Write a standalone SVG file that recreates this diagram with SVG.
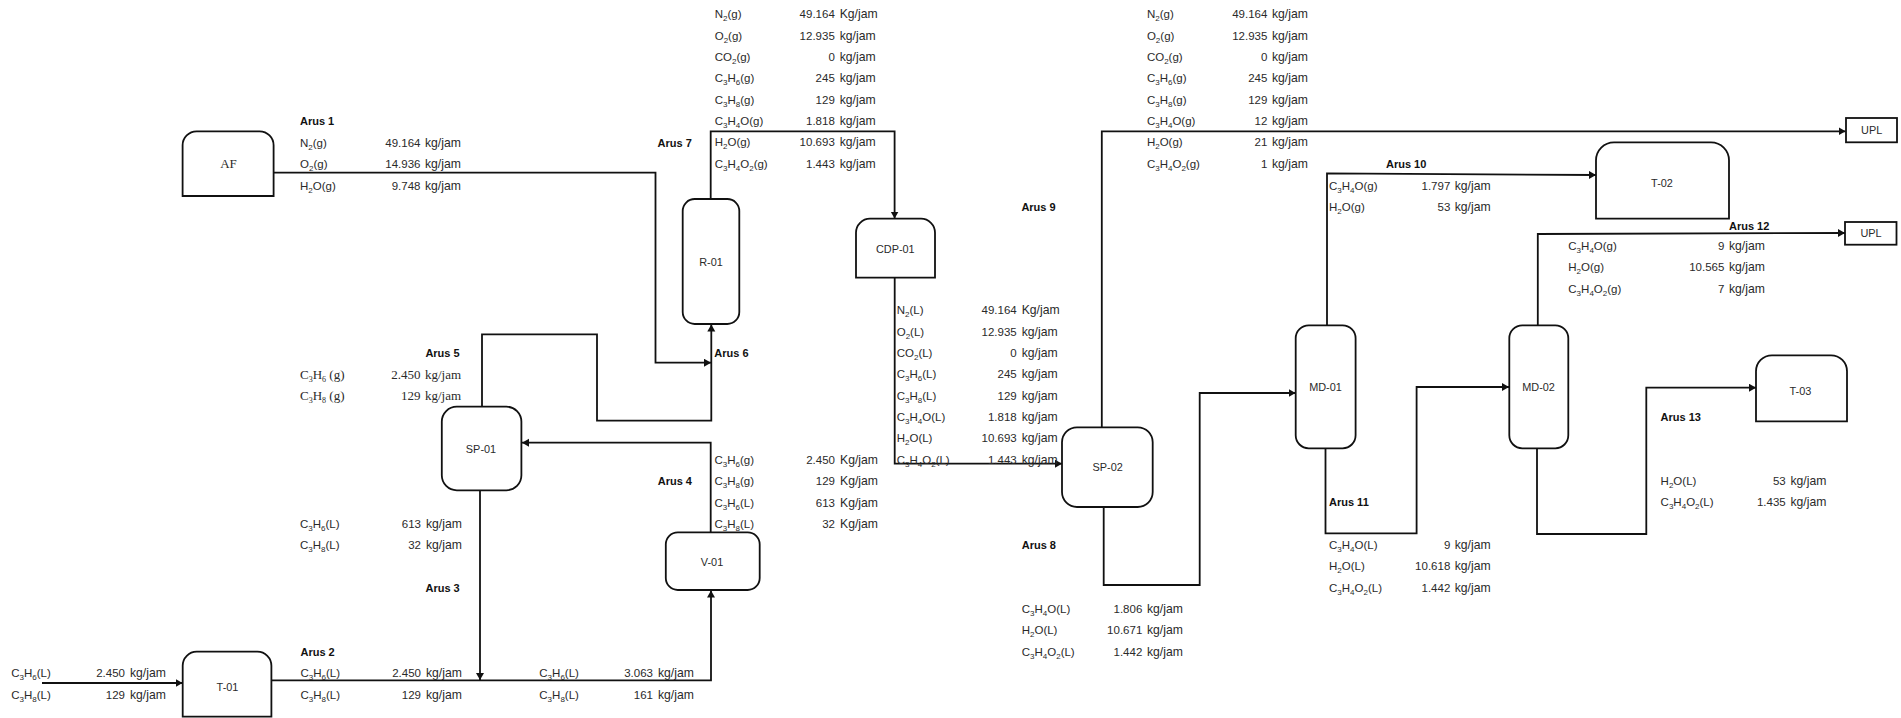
<svg xmlns="http://www.w3.org/2000/svg" width="1901" height="718" viewBox="0 0 1901 718">
<style>
text{font-family:"Liberation Sans",Arial,sans-serif;font-size:11.5px;fill:#2a2a2a}
.b{font-weight:bold;font-size:11px;fill:#111}
.r{text-anchor:end}
.c{text-anchor:middle;font-size:10.9px}
.r+text{font-size:12.2px}
.s{font-size:8px;baseline-shift:-2.5px}
text.t,text.t.c,.r.t+text{font-family:"Liberation Serif",serif;font-size:13px}
.n{fill:#fff;stroke:#111;stroke-width:1.8}
.w{fill:none;stroke:#111;stroke-width:1.8;stroke-linejoin:miter}
</style>
<defs>
<marker id="a" markerUnits="userSpaceOnUse" markerWidth="9" markerHeight="9" refX="7" refY="4" orient="auto"><path d="M0 0L7 4L0 8Z" fill="#111"/></marker>
</defs>
<g id="connectors">
<path class="w" d="M274 172.7H655.5V362.7H711" marker-end="url(#a)"/>
<path class="w" d="M482 406.7V334.3H597V420.7H711.3V324.5" marker-end="url(#a)"/>
<path class="w" d="M710.7 199V131.3H894.6V218.5" marker-end="url(#a)"/>
<path class="w" style="stroke-width:2.2" d="M42 683H182.5" marker-end="url(#a)"/>
<path class="w" d="M271.5 680.3H711V590.5" marker-end="url(#a)"/>
<path class="w" d="M480 490.3V680" marker-end="url(#a)"/>
<path class="w" d="M710.7 532.3V442.7H522" marker-end="url(#a)"/>
<path class="w" d="M894.7 277.7V463.7H1062" marker-end="url(#a)"/>
<path class="w" d="M1101.8 427.3V131.3H1845.5" marker-end="url(#a)"/>
<path class="w" d="M1103.7 507V585H1199.7V393H1295.5" marker-end="url(#a)"/>
<path class="w" d="M1327 325.3V173.3L1596 175" marker-end="url(#a)"/>
<path class="w" d="M1325.5 448.3V533.3H1416.6V387H1509" marker-end="url(#a)"/>
<path class="w" d="M1537.8 325.3V234L1845 233" marker-end="url(#a)"/>
<path class="w" d="M1537 448.3V534H1646.3V387.7H1756" marker-end="url(#a)"/>
</g>
<g id="AF"><path class="n" d="M182.6 196V145.3a14 14 0 0 1 14-14h63a14 14 0 0 1 14 14V196Z"/><text class="t c" x="228.5" y="168">AF</text></g>
<g id="T-01"><path class="n" d="M182.7 716.7V665.7a14 14 0 0 1 14-14h60.7a14 14 0 0 1 14 14V716.7Z"/><text class="c" x="227.5" y="691">T-01</text></g>
<g id="SP-01"><rect class="n" x="441.8" y="406.7" width="79.6" height="83.6" rx="15"/><text class="c" x="481" y="452.7">SP-01</text></g>
<g id="V-01"><rect class="n" x="665.8" y="532.3" width="93.9" height="57.7" rx="12"/><text class="c" x="712" y="565.7">V-01</text></g>
<g id="R-01"><rect class="n" x="682.7" y="199" width="56.6" height="125" rx="12"/><text class="c" x="711" y="265.7">R-01</text></g>
<g id="CDP-01"><path class="n" d="M856 277.7V232.7a14 14 0 0 1 14-14h51a14 14 0 0 1 14 14V277.7Z"/><text class="c" x="895.3" y="253.3">CDP-01</text></g>
<g id="SP-02"><rect class="n" x="1062" y="427.3" width="90.7" height="79.7" rx="15"/><text class="c" x="1107.7" y="471.3">SP-02</text></g>
<g id="MD-01"><rect class="n" x="1295.7" y="325.3" width="59.9" height="123" rx="13"/><text class="c" x="1325.5" y="391.3">MD-01</text></g>
<g id="MD-02"><rect class="n" x="1509.3" y="325.3" width="59" height="123" rx="13"/><text class="c" x="1538.6" y="391.3">MD-02</text></g>
<g id="T-02"><path class="n" d="M1596 218.7V160.3a18 18 0 0 1 18-18h97a18 18 0 0 1 18 18V218.7Z"/><text class="c" x="1662" y="186.7">T-02</text></g>
<g id="T-03"><path class="n" d="M1756 421.3V371.3a16 16 0 0 1 16-16h59a16 16 0 0 1 16 16V421.3Z"/><text class="c" x="1800.4" y="395">T-03</text></g>
<g id="UPL-1"><rect class="n" x="1846" y="118" width="51" height="24.3"/><text class="c" x="1871.7" y="134">UPL</text></g>
<g id="UPL-2"><rect class="n" x="1845" y="222" width="51.5" height="22.7"/><text class="c" x="1871" y="237.3">UPL</text></g>
<g id="labels">
<text class="b" x="300" y="125">Arus 1</text>
<text class="b" x="657.6" y="146.7">Arus 7</text>
<text class="b" x="425.4" y="356.7">Arus 5</text>
<text class="b" x="714.3" y="356.7">Arus 6</text>
<text class="b" x="657.7" y="485">Arus 4</text>
<text class="b" x="425.5" y="591.7">Arus 3</text>
<text class="b" x="300.5" y="655.7">Arus 2</text>
<text class="b" x="1021.4" y="211.3">Arus 9</text>
<text class="b" x="1021.7" y="549">Arus 8</text>
<text class="b" x="1386" y="168">Arus 10</text>
<text class="b" x="1729" y="230.3">Arus 12</text>
<text class="b" x="1660.6" y="420.7">Arus 13</text>
<text class="b" x="1329" y="506">Arus 11</text>

<text x="300" y="146.7">N<tspan class="s">2</tspan>(g)</text><text class="r" x="420.5" y="146.7">49.164</text><text x="425" y="146.7">kg/jam</text>
<text x="300" y="168">O<tspan class="s">2</tspan>(g)</text><text class="r" x="420.5" y="168">14.936</text><text x="425" y="168">kg/jam</text>
<text x="300" y="189.6">H<tspan class="s">2</tspan>O(g)</text><text class="r" x="420.5" y="189.6">9.748</text><text x="425" y="189.6">kg/jam</text>

<text class="t" x="300" y="378.5">C<tspan class="s">3</tspan>H<tspan class="s">6</tspan> (g)</text><text class="t r" x="420.5" y="378.5">2.450</text><text class="t" x="425" y="378.5">kg/jam</text>
<text class="t" x="300" y="399.5">C<tspan class="s">3</tspan>H<tspan class="s">8</tspan> (g)</text><text class="t r" x="420.5" y="399.5">129</text><text class="t" x="425" y="399.5">kg/jam</text>

<text x="300" y="528">C<tspan class="s">3</tspan>H<tspan class="s">6</tspan>(L)</text><text class="r" x="421" y="528">613</text><text x="426" y="528">kg/jam</text>
<text x="300" y="549.3">C<tspan class="s">3</tspan>H<tspan class="s">8</tspan>(L)</text><text class="r" x="421" y="549.3">32</text><text x="426" y="549.3">kg/jam</text>

<text x="11.2" y="677.3">C<tspan class="s">3</tspan>H<tspan class="s">6</tspan>(L)</text><text class="r" x="125" y="677.3">2.450</text><text x="130" y="677.3">kg/jam</text>
<text x="11.2" y="698.7">C<tspan class="s">3</tspan>H<tspan class="s">8</tspan>(L)</text><text class="r" x="125" y="698.7">129</text><text x="130" y="698.7">kg/jam</text>

<text x="300.5" y="677.3">C<tspan class="s">3</tspan>H<tspan class="s">6</tspan>(L)</text><text class="r" x="421" y="677.3">2.450</text><text x="426" y="677.3">kg/jam</text>
<text x="300.5" y="698.7">C<tspan class="s">3</tspan>H<tspan class="s">8</tspan>(L)</text><text class="r" x="421" y="698.7">129</text><text x="426" y="698.7">kg/jam</text>

<text x="539.3" y="677.3">C<tspan class="s">3</tspan>H<tspan class="s">6</tspan>(L)</text><text class="r" x="653" y="677.3">3.063</text><text x="658" y="677.3">kg/jam</text>
<text x="539.3" y="698.7">C<tspan class="s">3</tspan>H<tspan class="s">8</tspan>(L)</text><text class="r" x="653" y="698.7">161</text><text x="658" y="698.7">kg/jam</text>

<text x="714.5" y="464">C<tspan class="s">3</tspan>H<tspan class="s">6</tspan>(g)</text><text class="r" x="835" y="464">2.450</text><text x="840" y="464">Kg/jam</text>
<text x="714.5" y="485.3">C<tspan class="s">3</tspan>H<tspan class="s">8</tspan>(g)</text><text class="r" x="835" y="485.3">129</text><text x="840" y="485.3">Kg/jam</text>
<text x="714.5" y="506.7">C<tspan class="s">3</tspan>H<tspan class="s">6</tspan>(L)</text><text class="r" x="835" y="506.7">613</text><text x="840" y="506.7">Kg/jam</text>
<text x="714.5" y="528">C<tspan class="s">3</tspan>H<tspan class="s">8</tspan>(L)</text><text class="r" x="835" y="528">32</text><text x="840" y="528">Kg/jam</text>

<g transform="translate(0,-1.2)">
<text x="714.7" y="19.7">N<tspan class="s">2</tspan>(g)</text><text class="r" x="834.8" y="19.7">49.164</text><text x="839.7" y="19.7">Kg/jam</text>
<text x="714.7" y="41">O<tspan class="s">2</tspan>(g)</text><text class="r" x="834.8" y="41">12.935</text><text x="839.7" y="41">kg/jam</text>
<text x="714.7" y="62.4">CO<tspan class="s">2</tspan>(g)</text><text class="r" x="834.8" y="62.4">0</text><text x="839.7" y="62.4">kg/jam</text>
<text x="714.7" y="83.7">C<tspan class="s">3</tspan>H<tspan class="s">6</tspan>(g)</text><text class="r" x="834.8" y="83.7">245</text><text x="839.7" y="83.7">kg/jam</text>
<text x="714.7" y="105">C<tspan class="s">3</tspan>H<tspan class="s">8</tspan>(g)</text><text class="r" x="834.8" y="105">129</text><text x="839.7" y="105">kg/jam</text>
<text x="714.7" y="126.4">C<tspan class="s">3</tspan>H<tspan class="s">4</tspan>O(g)</text><text class="r" x="834.8" y="126.4">1.818</text><text x="839.7" y="126.4">kg/jam</text>
<text x="714.7" y="147.7">H<tspan class="s">2</tspan>O(g)</text><text class="r" x="834.8" y="147.7">10.693</text><text x="839.7" y="147.7">kg/jam</text>
<text x="714.7" y="169">C<tspan class="s">3</tspan>H<tspan class="s">4</tspan>O<tspan class="s">2</tspan>(g)</text><text class="r" x="834.8" y="169">1.443</text><text x="839.7" y="169">kg/jam</text>

<text x="1146.9" y="19.7">N<tspan class="s">2</tspan>(g)</text><text class="r" x="1267.4" y="19.7">49.164</text><text x="1272" y="19.7">kg/jam</text>
<text x="1146.9" y="41">O<tspan class="s">2</tspan>(g)</text><text class="r" x="1267.4" y="41">12.935</text><text x="1272" y="41">kg/jam</text>
<text x="1146.9" y="62.4">CO<tspan class="s">2</tspan>(g)</text><text class="r" x="1267.4" y="62.4">0</text><text x="1272" y="62.4">kg/jam</text>
<text x="1146.9" y="83.7">C<tspan class="s">3</tspan>H<tspan class="s">6</tspan>(g)</text><text class="r" x="1267.4" y="83.7">245</text><text x="1272" y="83.7">kg/jam</text>
<text x="1146.9" y="105">C<tspan class="s">3</tspan>H<tspan class="s">8</tspan>(g)</text><text class="r" x="1267.4" y="105">129</text><text x="1272" y="105">kg/jam</text>
<text x="1146.9" y="126.4">C<tspan class="s">3</tspan>H<tspan class="s">4</tspan>O(g)</text><text class="r" x="1267.4" y="126.4">12</text><text x="1272" y="126.4">kg/jam</text>
<text x="1146.9" y="147.7">H<tspan class="s">2</tspan>O(g)</text><text class="r" x="1267.4" y="147.7">21</text><text x="1272" y="147.7">kg/jam</text>
<text x="1146.9" y="169">C<tspan class="s">3</tspan>H<tspan class="s">4</tspan>O<tspan class="s">2</tspan>(g)</text><text class="r" x="1267.4" y="169">1</text><text x="1272" y="169">kg/jam</text>
</g>

<text x="896.7" y="314.3">N<tspan class="s">2</tspan>(L)</text><text class="r" x="1016.7" y="314.3">49.164</text><text x="1021.7" y="314.3">Kg/jam</text>
<text x="896.7" y="335.7">O<tspan class="s">2</tspan>(L)</text><text class="r" x="1016.7" y="335.7">12.935</text><text x="1021.7" y="335.7">kg/jam</text>
<text x="896.7" y="357">CO<tspan class="s">2</tspan>(L)</text><text class="r" x="1016.7" y="357">0</text><text x="1021.7" y="357">kg/jam</text>
<text x="896.7" y="378.3">C<tspan class="s">3</tspan>H<tspan class="s">6</tspan>(L)</text><text class="r" x="1016.7" y="378.3">245</text><text x="1021.7" y="378.3">kg/jam</text>
<text x="896.7" y="399.7">C<tspan class="s">3</tspan>H<tspan class="s">8</tspan>(L)</text><text class="r" x="1016.7" y="399.7">129</text><text x="1021.7" y="399.7">kg/jam</text>
<text x="896.7" y="421">C<tspan class="s">3</tspan>H<tspan class="s">4</tspan>O(L)</text><text class="r" x="1016.7" y="421">1.818</text><text x="1021.7" y="421">kg/jam</text>
<text x="896.7" y="442.3">H<tspan class="s">2</tspan>O(L)</text><text class="r" x="1016.7" y="442.3">10.693</text><text x="1021.7" y="442.3">kg/jam</text>
<text x="896.7" y="463.7">C<tspan class="s">3</tspan>H<tspan class="s">4</tspan>O<tspan class="s">2</tspan>(L)</text><text class="r" x="1016.7" y="463.7">1.443</text><text x="1021.7" y="463.7">kg/jam</text>

<text x="1021.7" y="613">C<tspan class="s">3</tspan>H<tspan class="s">4</tspan>O(L)</text><text class="r" x="1142.3" y="613">1.806</text><text x="1147" y="613">kg/jam</text>
<text x="1021.7" y="634.3">H<tspan class="s">2</tspan>O(L)</text><text class="r" x="1142.3" y="634.3">10.671</text><text x="1147" y="634.3">kg/jam</text>
<text x="1021.7" y="655.7">C<tspan class="s">3</tspan>H<tspan class="s">4</tspan>O<tspan class="s">2</tspan>(L)</text><text class="r" x="1142.3" y="655.7">1.442</text><text x="1147" y="655.7">kg/jam</text>

<text x="1329" y="189.7">C<tspan class="s">3</tspan>H<tspan class="s">4</tspan>O(g)</text><text class="r" x="1450.3" y="189.7">1.797</text><text x="1454.7" y="189.7">kg/jam</text>
<text x="1329" y="211">H<tspan class="s">2</tspan>O(g)</text><text class="r" x="1450.3" y="211">53</text><text x="1454.7" y="211">kg/jam</text>

<text x="1568.3" y="250">C<tspan class="s">3</tspan>H<tspan class="s">4</tspan>O(g)</text><text class="r" x="1724.4" y="250">9</text><text x="1729" y="250">kg/jam</text>
<text x="1568.3" y="271.3">H<tspan class="s">2</tspan>O(g)</text><text class="r" x="1724.4" y="271.3">10.565</text><text x="1729" y="271.3">kg/jam</text>
<text x="1568.3" y="292.7">C<tspan class="s">3</tspan>H<tspan class="s">4</tspan>O<tspan class="s">2</tspan>(g)</text><text class="r" x="1724.4" y="292.7">7</text><text x="1729" y="292.7">kg/jam</text>

<text x="1329" y="549">C<tspan class="s">3</tspan>H<tspan class="s">4</tspan>O(L)</text><text class="r" x="1450.3" y="549">9</text><text x="1454.7" y="549">kg/jam</text>
<text x="1329" y="570.3">H<tspan class="s">2</tspan>O(L)</text><text class="r" x="1450.3" y="570.3">10.618</text><text x="1454.7" y="570.3">kg/jam</text>
<text x="1329" y="591.7">C<tspan class="s">3</tspan>H<tspan class="s">4</tspan>O<tspan class="s">2</tspan>(L)</text><text class="r" x="1450.3" y="591.7">1.442</text><text x="1454.7" y="591.7">kg/jam</text>

<text x="1660.6" y="485">H<tspan class="s">2</tspan>O(L)</text><text class="r" x="1785.7" y="485">53</text><text x="1790.5" y="485">kg/jam</text>
<text x="1660.6" y="506.3">C<tspan class="s">3</tspan>H<tspan class="s">4</tspan>O<tspan class="s">2</tspan>(L)</text><text class="r" x="1785.7" y="506.3">1.435</text><text x="1790.5" y="506.3">kg/jam</text>
</g>
</svg>
